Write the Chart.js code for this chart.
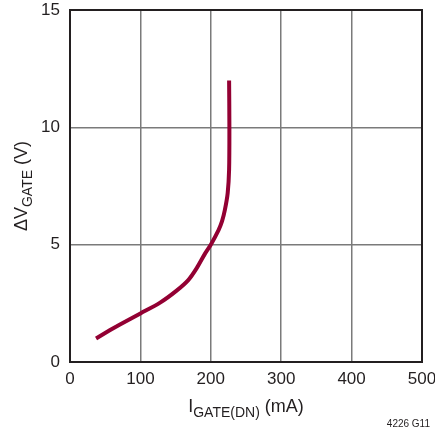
<!DOCTYPE html>
<html>
<head>
<meta charset="utf-8">
<script src="https://cdn.jsdelivr.net/npm/chart.js@4.4.1/dist/chart.umd.min.js"></script>
<style>
  html, body { margin: 0; padding: 0; background: #fff; }
  #wrap { width: 435px; height: 433px; }
</style>
</head>
<body>
<div id="wrap"><canvas id="chart1" width="435" height="433"></canvas></div>
<script>
// gate pull-down current (mA) vs gate voltage (V)
var iGate = [37, 57, 71, 100, 128, 151, 168, 180, 192, 200, 211, 216, 220, 224, 226, 226.4, 226];
var vGate = [1.0, 1.36, 1.6, 2.07, 2.53, 3.03, 3.49, 4.0, 4.63, 5.0, 5.62, 6.0, 6.48, 7.2, 8.2, 10.0, 12.0];

var xTicks = [0, 100, 200, 300, 400, 500];
var yTicks = [0, 5, 10, 15];

var FONT = '"Liberation Sans", Arial, sans-serif';
var TXT = '#231f20';

var points = iGate.map(function(x, i) { return { x: x, y: vGate[i] }; });

// dark frame round the plot (top and right edges too)
var frame = {
  id: 'frame',
  afterDatasetsDraw: function(chart) {
    var a = chart.chartArea, ctx = chart.ctx;
    ctx.save();
    ctx.strokeStyle = '#231f20';
    ctx.lineWidth = 2;
    ctx.strokeRect(a.left, a.top, a.right - a.left, a.bottom - a.top);
    ctx.restore();
  }
};

// axis titles with subscripts, plus the figure code
var titles = {
  id: 'titles',
  afterDraw: function(chart) {
    var ctx = chart.ctx;
    ctx.save();
    ctx.fillStyle = TXT;
    ctx.textBaseline = 'alphabetic';
    ctx.textAlign = 'left';

    function run(parts, x, y) {
      var cx = x;
      parts.forEach(function(p) {
        ctx.font = p[1] + 'px ' + FONT;
        ctx.fillText(p[0], cx, y + p[2]);
        cx += ctx.measureText(p[0]).width;
      });
    }
    function width(parts) {
      var w = 0;
      parts.forEach(function(p) {
        ctx.font = p[1] + 'px ' + FONT;
        w += ctx.measureText(p[0]).width;
      });
      return w;
    }

    var xt = [['I', 18, 0], ['GATE(DN)', 14, 5], [' (mA)', 18, 0]];
    run(xt, 246 - width(xt) / 2, 412);

    var yt = [['\u0394V', 18, 0], ['GATE', 14, 5], [' (V)', 18, 0]];
    ctx.translate(27, 186);
    ctx.rotate(-Math.PI / 2);
    run(yt, -width(yt) / 2, 0);
    ctx.restore();

    ctx.save();
    ctx.fillStyle = TXT;
    ctx.font = '10px ' + FONT;
    ctx.textAlign = 'right';
    ctx.fillText('4226 G11', 430, 427);
    ctx.restore();
  }
};

var ctx1 = document.getElementById('chart1').getContext('2d');
var chart1 = new Chart(ctx1, {
  type: 'scatter',
  data: {
    datasets: [{
      data: points,
      showLine: true,
      borderColor: '#930033',
      borderWidth: 4,
      pointRadius: 0,
      tension: 0.3,
      borderCapStyle: 'butt'
    }]
  },
  options: {
    responsive: false,
    animation: false,
    layout: { padding: { top: 10, right: 13, left: 0, bottom: 0 } },
    plugins: { legend: { display: false }, tooltip: { enabled: false } },
    scales: {
      x: {
        type: 'linear',
        min: 0,
        max: 500,
        afterBuildTicks: function(s) { s.ticks = xTicks.map(function(v) { return { value: v }; }); },
        afterFit: function(s) { s.height = 71; s.paddingLeft = 0; s.paddingRight = 0; },
        ticks: { color: TXT, font: { family: FONT, size: 17 }, padding: 7, maxRotation: 0 },
        grid: { color: '#7a7a7a', lineWidth: 1.5, drawTicks: false },
        border: { color: '#231f20', width: 2 }
      },
      y: {
        min: 0,
        max: 15,
        afterBuildTicks: function(s) { s.ticks = yTicks.map(function(v) { return { value: v }; }); },
        afterFit: function(s) { s.width = 70; s.paddingTop = 0; s.paddingBottom = 0; },
        ticks: { color: TXT, font: { family: FONT, size: 17 }, padding: 10 },
        grid: { color: '#7a7a7a', lineWidth: 1.5, drawTicks: false },
        border: { color: '#231f20', width: 2 }
      }
    }
  },
  plugins: [frame, titles]
});
</script>
</body>
</html>
